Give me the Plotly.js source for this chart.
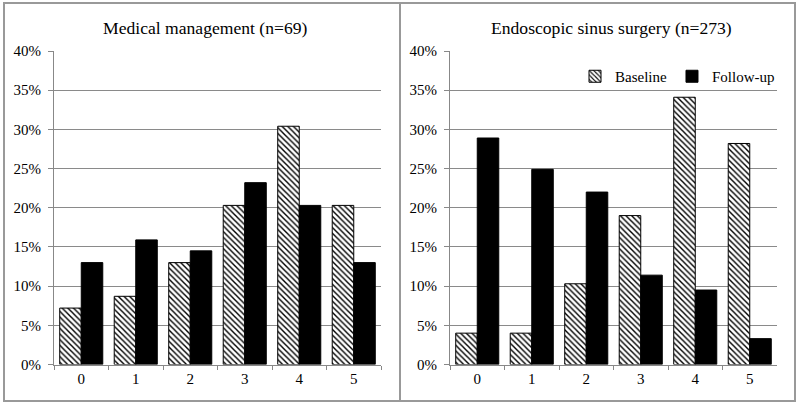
<!DOCTYPE html>
<html>
<head>
<meta charset="utf-8">
<script src="https://cdn.plot.ly/plotly-3.0.1.min.js"></script>
<style>html,body{margin:0;padding:0;background:#fff;}#chart{width:800px;height:408px;}</style>
</head>
<body>
<div id="chart"></div>
<script>
const categories = ["0", "1", "2", "3", "4", "5"];
const medicalBaseline = [0.072, 0.087, 0.130, 0.203, 0.304, 0.203];
const medicalFollowup = [0.130, 0.159, 0.145, 0.232, 0.203, 0.130];
const surgeryBaseline = [0.040, 0.040, 0.103, 0.190, 0.341, 0.282];
const surgeryFollowup = [0.289, 0.249, 0.220, 0.114, 0.095, 0.033];
const panelTitles = ["Medical management (n=69)", "Endoscopic sinus surgery (n=273)"];
const seriesNames = ["Baseline", "Follow-up"];

const W = 800, H = 408;
const px = v => v / W, py = v => 1 - v / H;
const fontFam = "Liberation Serif, Times New Roman, serif";

const hatch = {shape: "\\", bgcolor: "white", fgcolor: "black", size: 4, solidity: 0.35};

function baseTrace(x, y, xa, ya, show) {
  return {type: "bar", x: x, y: y, xaxis: xa, yaxis: ya, name: seriesNames[0],
    showlegend: show, legendgroup: "b",
    marker: {color: "white", pattern: hatch, line: {color: "black", width: 1}}};
}
function fupTrace(x, y, xa, ya, show) {
  return {type: "bar", x: x, y: y, xaxis: xa, yaxis: ya, name: seriesNames[1],
    showlegend: show, legendgroup: "f",
    marker: {color: "black", line: {color: "black", width: 1}}};
}

const data = [
  baseTrace(categories, medicalBaseline, "x", "y", false),
  fupTrace(categories, medicalFollowup, "x", "y", false),
  baseTrace(categories, surgeryBaseline, "x2", "y2", true),
  fupTrace(categories, surgeryFollowup, "x2", "y2", true)
];

const yDomain = [py(364.5), py(51)];
function xAxis(domain, anchor) {
  return {domain: domain, anchor: anchor, type: "category", tickson: "boundaries",
    ticks: "outside", ticklen: 4, tickcolor: "#888", showline: true, linecolor: "#888",
    linewidth: 1, showgrid: false, zeroline: false, fixedrange: true,
    tickfont: {family: fontFam, size: 15, color: "#000"}};
}
function yAxis(anchor) {
  return {domain: yDomain, anchor: anchor, range: [0, 0.4], dtick: 0.05, tickformat: ".0%",
    ticks: "outside", ticklen: 5, tickcolor: "#888", showline: true, linecolor: "#888",
    linewidth: 1, showgrid: true, gridcolor: "#8a8a8a", gridwidth: 1, zeroline: false,
    ticklabelstandoff: 4,
    tickfont: {family: fontFam, size: 15, color: "#000"}};
}

const layout = {
  width: W, height: H,
  margin: {l: 0, r: 0, t: 0, b: 0},
  paper_bgcolor: "white", plot_bgcolor: "white",
  barmode: "group", bargap: 0.21, bargroupgap: 0,
  font: {family: fontFam, color: "#000"},
  xaxis: xAxis([px(54), px(381)], "y"),
  yaxis: yAxis("x"),
  xaxis2: xAxis([px(450), px(777)], "y2"),
  yaxis2: yAxis("x2"),
  legend: {orientation: "h", x: px(780), xanchor: "right", y: py(60), yanchor: "top",
    font: {family: fontFam, size: 15, color: "#000"}, bgcolor: "rgba(0,0,0,0)",
    itemwidth: 30, tracegroupgap: 0, traceorder: "normal"},
  annotations: [
    {text: panelTitles[0], xref: "paper", yref: "paper", x: px(205), y: py(28),
      xanchor: "center", yanchor: "middle", showarrow: false,
      font: {family: fontFam, size: 17.6, color: "#000"}},
    {text: panelTitles[1], xref: "paper", yref: "paper", x: px(611), y: py(28),
      xanchor: "center", yanchor: "middle", showarrow: false,
      font: {family: fontFam, size: 17.6, color: "#000"}}
  ],
  shapes: [
    {type: "rect", xref: "paper", yref: "paper", x0: px(4), x1: px(400), y0: py(401), y1: py(3),
      line: {color: "#999", width: 2}},
    {type: "rect", xref: "paper", yref: "paper", x0: px(400), x1: px(795), y0: py(401), y1: py(3),
      line: {color: "#999", width: 2}}
  ]
};

Plotly.newPlot("chart", data, layout, {displayModeBar: false, staticPlot: true});
</script>
</body>
</html>
